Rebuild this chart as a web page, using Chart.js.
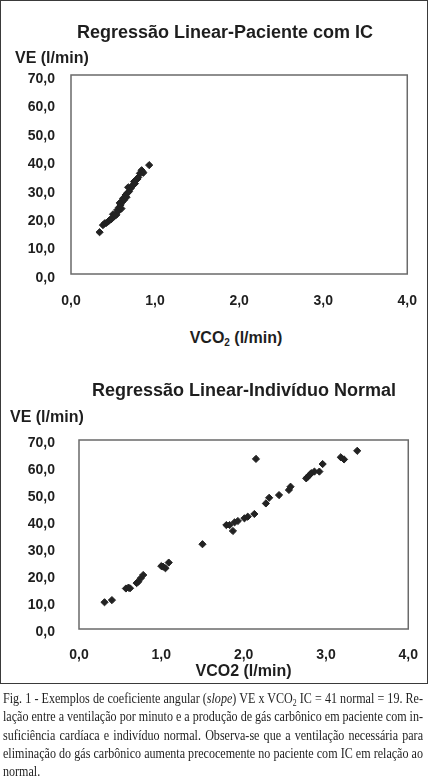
<!DOCTYPE html>
<html lang="pt">
<head>
<meta charset="utf-8">
<title>Regressão Linear - VE x VCO2</title>
<script src="https://cdn.jsdelivr.net/npm/chart.js@4.4.1/dist/chart.umd.min.js"></script>
<style>
  body { margin: 0; background: #fff; }
  .page { position: relative; width: 428px; height: 783px; overflow: hidden; background: #fff; }
  .frame { position: absolute; left: 0; top: 0; width: 428px; height: 684px; border: 1.5px solid #3a3a3a; box-sizing: border-box; }
  canvas { position: absolute; left: 0; }
  .lbl { position: absolute; white-space: nowrap; font-family: "Liberation Sans", Arial, sans-serif; font-weight: bold; color: #1e1e1e; line-height: 20px; height: 20px; }
  .ttl { font-size: 18px; width: 400px; text-align: center; }
  .axt { font-size: 16px; }
  .ctr { width: 400px; text-align: center; }
  .lbl sub { font-size: 10px; vertical-align: -3px; line-height: 0; }
  .caption { position: absolute; left: 3px; top: 689px; font-family: "Liberation Serif", "Times New Roman", serif; font-size: 15.5px; color: #1e1e1e; }
  .caption .line { height: 18.3px; line-height: 18.3px; white-space: nowrap; transform-origin: 0 0; }
  .caption sub { font-size: 10px; vertical-align: -3px; line-height: 0; }
</style>
</head>
<body>
<div class="page">
  <div class="frame"></div>
  <canvas id="icChart" width="428" height="320" style="top:0"></canvas>
  <canvas id="normalChart" width="428" height="330" style="top:350px"></canvas>

  <div class="lbl ttl" style="left:25px;top:21.5px">Regressão Linear-Paciente com IC</div>
  <div class="lbl axt" style="left:15px;top:47.5px">VE (l/min)</div>
  <div class="lbl axt ctr" style="left:36px;top:328px">VCO<sub>2</sub> (l/min)</div>

  <div class="lbl ttl" style="left:44px;top:380px">Regressão Linear-Indivíduo Normal</div>
  <div class="lbl axt" style="left:10px;top:407px">VE (l/min)</div>
  <div class="lbl axt ctr" style="left:43.5px;top:661px">VCO2 (l/min)</div>

  <div class="caption" id="caption">
    <div class="line just">Fig. 1 - Exemplos de coeficiente angular (<i>slope</i>) VE x VCO<sub>2</sub> IC = 41 normal = 19. Re-</div>
    <div class="line just">lação entre a ventilação por minuto e a produção de gás carbônico em paciente com in-</div>
    <div class="line just">suficiência cardíaca e indivíduo normal. Observa-se que a ventilação necessária para</div>
    <div class="line just">eliminação do gás carbônico aumenta precocemente no paciente com IC em relação ao</div>
    <div class="line">normal.</div>
  </div>
</div>

<script>
// Data
const veTicks = [0, 10, 20, 30, 40, 50, 60, 70];
const vco2Ticks = [0, 1, 2, 3, 4];

// Paciente com IC
const icVco2 = [0.34, 0.38, 0.40, 0.42, 0.44, 0.46, 0.48, 0.50, 0.51, 0.52, 0.54, 0.56, 0.55, 0.57, 0.59,
    0.58, 0.60, 0.61, 0.62, 0.63, 0.65, 0.66, 0.67, 0.68, 0.69, 0.71, 0.72, 0.74, 0.75, 0.76, 0.77, 0.79,
    0.80, 0.82, 0.84, 0.85, 0.86, 0.93];
const icVe = [14.7, 17.2, 17.8, 18.0, 18.4, 19.0, 19.3, 21.0, 20.2, 20.5, 20.8, 22.0, 22.5, 23.4, 24.3,
    25.0, 23.0, 25.4, 26.6, 26.0, 27.8, 27.0, 28.5, 30.5, 29.0, 30.1, 30.8, 31.3, 32.5, 31.8, 33.0, 33.4,
    34.0, 35.4, 36.5, 36.0, 35.6, 38.3];

// Indivíduo normal
const normalVco2 = [0.31, 0.40, 0.57, 0.60, 0.62, 0.70, 0.72, 0.75, 0.78, 1.00, 1.02, 1.05, 1.09, 1.50,
    1.79, 1.83, 1.87, 1.89, 1.93, 2.01, 2.05, 2.13, 2.15, 2.27, 2.31, 2.43, 2.55, 2.57, 2.76, 2.78, 2.80,
    2.82, 2.86, 2.92, 2.96, 3.18, 3.22, 3.38];
const normalVe = [9.9, 10.7, 15.0, 15.3, 15.1, 17.0, 17.5, 18.8, 20.0, 23.3, 23.1, 22.5, 24.6, 31.4,
    38.5, 38.5, 36.3, 39.5, 40.0, 41.0, 41.6, 42.6, 63.0, 46.5, 48.6, 49.6, 51.5, 52.7, 55.8, 56.4, 57.0,
    57.7, 58.3, 58.3, 61.1, 63.6, 62.8, 66.0];

const FONT = '"Liberation Sans", Arial, sans-serif';
const commaFmt = (v) => Number(v).toFixed(1).replace('.', ',');

// box round the plot area
const frameBox = {
    id: 'frameBox',
    beforeDatasetsDraw(chart) {
        const { ctx, chartArea: a } = chart;
        ctx.save();
        ctx.strokeStyle = '#6a6a6a';
        ctx.lineWidth = 1.5;
        ctx.strokeRect(a.left, a.top, a.right - a.left, a.bottom - a.top);
        ctx.restore();
    }
};

function makeScatter(id, xs, ys, box) {
    return new Chart(document.getElementById(id), {
        type: 'scatter',
        data: {
            datasets: [{
                data: xs.map((x, i) => ({ x: x, y: ys[i] })),
                pointStyle: 'rectRot',
                pointRadius: 3.6,
                borderWidth: 1,
                backgroundColor: '#222',
                borderColor: '#222'
            }]
        },
        options: {
            responsive: false,
            animation: false,
            layout: { padding: { top: box.top, right: box.right, left: 0, bottom: 0 } },
            plugins: { legend: { display: false }, tooltip: { enabled: false } },
            scales: {
                x: {
                    type: 'linear', min: 0, max: 4,
                    grid: { display: false }, border: { display: false },
                    afterBuildTicks: (axis) => { axis.ticks = vco2Ticks.map(v => ({ value: v })); },
                    afterFit: (axis) => { axis.height = box.xh; },
                    ticks: {
                        color: '#1e1e1e', padding: box.xpad, maxRotation: 0,
                        font: { family: FONT, size: 14, weight: 'bold' },
                        callback: commaFmt
                    }
                },
                y: {
                    type: 'linear', min: 0, max: 70,
                    grid: { display: false }, border: { display: false },
                    afterBuildTicks: (axis) => { axis.ticks = veTicks.map(v => ({ value: v })); },
                    afterFit: (axis) => { axis.width = box.yw; },
                    ticks: {
                        color: '#1e1e1e', padding: box.ypad, labelOffset: box.yoff,
                        font: { family: FONT, size: 14, weight: 'bold' },
                        callback: commaFmt
                    }
                }
            }
        },
        plugins: [frameBox]
    });
}

makeScatter('icChart', icVco2, icVe, { top: 75, right: 16, yw: 71, xh: 46, xpad: 11, ypad: 8, yoff: 4 });
makeScatter('normalChart', normalVco2, normalVe, { top: 90, right: 19, yw: 79, xh: 51, xpad: 10, ypad: 16, yoff: 3 });

// fit the caption lines to the column, justified like the printed text
(function () {
    const target = 420;
    const lines = Array.from(document.querySelectorAll('#caption .line'));
    lines.forEach(l => { l.style.display = 'inline-block'; });
    const widths = lines.map(l => l.getBoundingClientRect().width);
    const scale = target / Math.max(...widths);
    lines.forEach((l, i) => {
        if (l.classList.contains('just')) {
            const spaces = (l.textContent.match(/ /g) || []).length;
            const extra = target / scale - widths[i];
            if (spaces) l.style.wordSpacing = (extra / spaces) + 'px';
        }
        l.style.transform = 'scaleX(' + scale + ')';
        l.style.display = 'block';
    });
})();
</script>
</body>
</html>
